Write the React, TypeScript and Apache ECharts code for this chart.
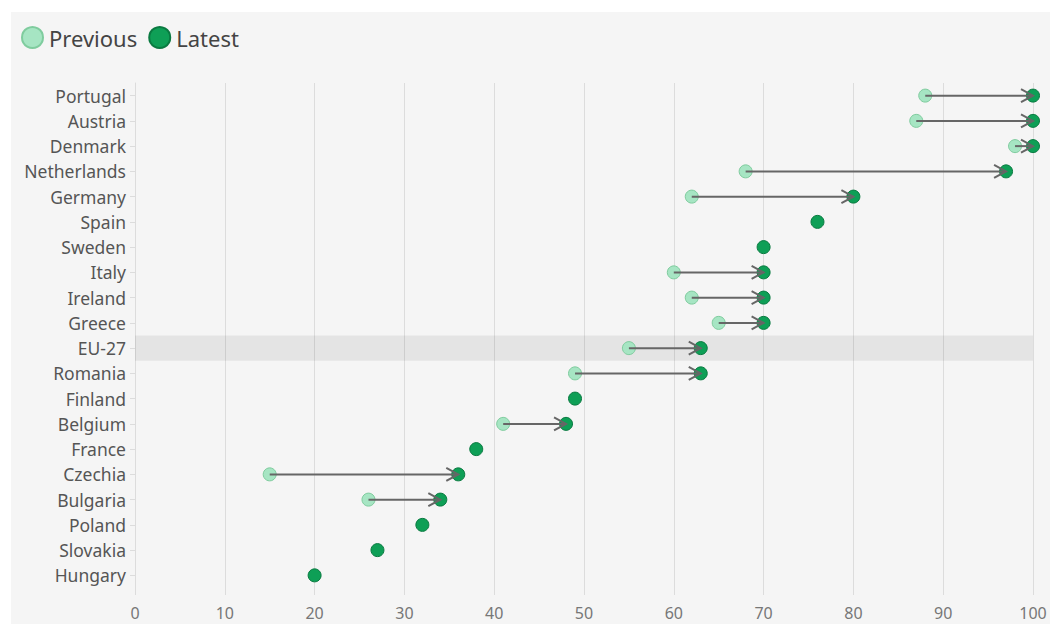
import React, { useEffect, useRef } from "react";
import * as echarts from "echarts";

const countries = [
  "Portugal", "Austria", "Denmark", "Netherlands", "Germany", "Spain", "Sweden",
  "Italy", "Ireland", "Greece", "EU-27", "Romania", "Finland", "Belgium", "France",
  "Czechia", "Bulgaria", "Poland", "Slovakia", "Hungary",
];
const previous: (number | null)[] = [
  88, 87, 98, 68, 62, null, null, 60, 62, 65, 55, 49, null, 41, null, 15, 26, null, null, null,
];
const latest: number[] = [
  100, 100, 100, 97, 80, 76, 70, 70, 70, 70, 63, 63, 49, 48, 38, 36, 34, 32, 27, 20,
];
const highlighted = "EU-27";
const xTicks = [0, 10, 20, 30, 40, 50, 60, 70, 80, 90, 100];

export default function App() {
  const ref = useRef<HTMLDivElement>(null);
  useEffect(() => {
    if (!ref.current) return;
    const chart = echarts.init(ref.current, undefined, { renderer: "svg" });
    const cats = [...countries].reverse();
    const prevR = [...previous].reverse();
    const latR = [...latest].reverse();
    const font = "'Noto Sans', 'Open Sans', sans-serif";

    const bandData = cats.map((c) => (c === highlighted ? xTicks[xTicks.length - 1] : null));
    const prevData = cats
      .map((c, i) => (prevR[i] == null ? null : [prevR[i], i]))
      .filter((d) => d !== null);
    const latData = cats.map((c, i) => [latR[i], i]);
    const arrowData = cats
      .map((c, i) => (prevR[i] == null ? null : [prevR[i], latR[i], i]))
      .filter((d) => d !== null);

    chart.setOption({
      animation: false,
      backgroundColor: "transparent",
      textStyle: { fontFamily: font },
      legend: {
        data: ["Previous", "Latest"],
        left: 16,
        top: 21,
        icon: "circle",
        itemWidth: 21,
        itemHeight: 21,
        itemGap: 11,
        textStyle: { fontSize: 22, color: "#444", fontFamily: font, padding: [0, 0, 0, 1] },
      },
      grid: { left: 135, right: 20, top: 83, bottom: 40, containLabel: false },
      xAxis: {
        type: "value",
        min: 0,
        max: 100,
        interval: 10,
        axisLine: { show: false },
        axisTick: { show: true, length: 7, lineStyle: { color: "#dcdcdc" } },
        splitLine: { show: true, lineStyle: { color: "#dcdcdc", width: 1 } },
        axisLabel: { fontSize: 16, color: "#777", margin: 17, fontFamily: font },
      },
      yAxis: {
        type: "category",
        data: cats,
        axisLine: { show: true, lineStyle: { color: "#dcdcdc" } },
        axisTick: { show: true, alignWithLabel: true, length: 5, lineStyle: { color: "#dcdcdc" } },
        axisLabel: { fontSize: 17.5, color: "#555", margin: 9, fontFamily: font },
        splitLine: { show: false },
      },
      series: [
        {
          type: "bar",
          name: "band",
          data: bandData,
          barWidth: "100%",
          silent: true,
          itemStyle: { color: "rgba(0,0,0,0.065)" },
          z: 1,
        },
        {
          type: "scatter",
          name: "Previous",
          data: prevData,
          symbolSize: 13,
          itemStyle: { color: "#a6e5c3", borderColor: "#7fcc9e", borderWidth: 1, opacity: 1 },
          z: 3,
        },
        {
          type: "scatter",
          name: "Latest",
          data: latData,
          symbolSize: 13,
          itemStyle: { color: "#0e9f56", borderColor: "#0a7a41", borderWidth: 1, opacity: 1 },
          z: 4,
        },
        {
          type: "custom",
          name: "arrows",
          data: arrowData,
          encode: { x: [0, 1], y: 2 },
          silent: true,
          z: 5,
          renderItem: (params: any, api: any) => {
            const a = api.coord([api.value(0), api.value(2)]);
            const b = api.coord([api.value(1), api.value(2)]);
            const style = { stroke: "#666", lineWidth: 2, fill: "none" };
            return {
              type: "group",
              children: [
                { type: "line", shape: { x1: a[0], y1: a[1], x2: b[0], y2: b[1] }, style },
                {
                  type: "polyline",
                  shape: { points: [[b[0] - 12, b[1] - 6.5], [b[0], b[1]], [b[0] - 12, b[1] + 6.5]] },
                  style,
                },
              ],
            };
          },
        },
      ],
    });
    return () => chart.dispose();
  }, []);

  return (
    <div style={{ position: "fixed", left: 0, top: 0, width: 1053, height: 628, background: "#fff" }}>
      <div style={{ position: "absolute", left: 11, top: 12, width: 1039, height: 612, background: "#f5f5f5" }} />
      <div ref={ref} style={{ position: "absolute", left: 0, top: 0, width: 1053, height: 628 }} />
    </div>
  );
}
